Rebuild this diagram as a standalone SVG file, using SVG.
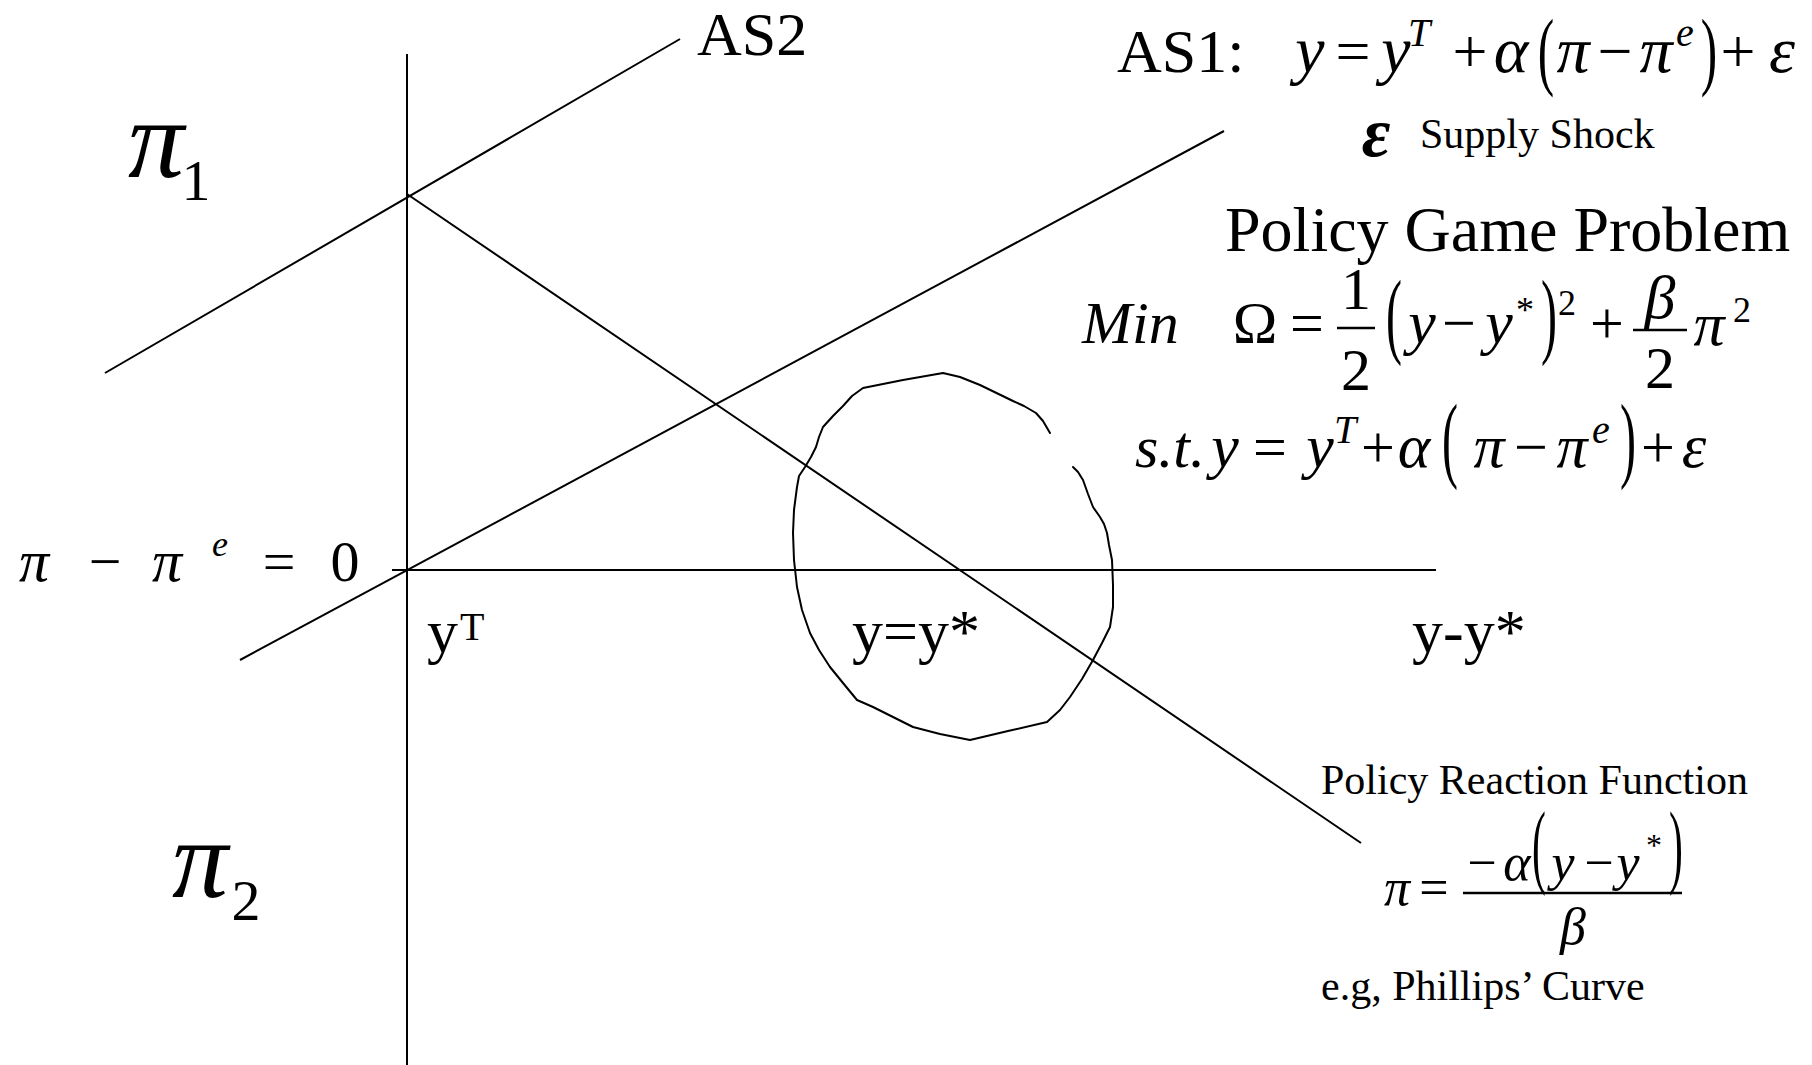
<svg xmlns="http://www.w3.org/2000/svg" width="1812" height="1065" viewBox="0 0 1812 1065">
<style>
text{font-family:"Liberation Serif","Times New Roman",serif;fill:#000}
.m{text-anchor:middle}
.i{font-style:italic}
.l{stroke:#000;stroke-width:2;fill:none}
.bar{stroke:#000;stroke-width:2.5}
.f66{font-size:66px}
.f62{font-size:62px}
.f60{font-size:60px}
.f58{font-size:58px}
.f52{font-size:52px}
.f42{font-size:42px}
.f40{font-size:40px}
.f36{font-size:36px}
.f32{font-size:32px}
</style>
<rect width="1812" height="1065" fill="#fff"/>
<g id="connectors">
<line class="l" x1="407" y1="54" x2="407" y2="1065"/>
<line class="l" x1="392" y1="570" x2="1436" y2="570"/>
<line id="as1-line" class="l" x1="240" y1="660" x2="1224" y2="131"/>
<line id="as2-line" class="l" x1="105" y1="373" x2="680" y2="39"/>
<line id="reaction-line" class="l" x1="407" y1="194" x2="1361" y2="843"/>
<path id="loss-curve" class="l" stroke-linejoin="round" stroke-linecap="round" d="M1050,433 L1043,421 1036,413 1024,406 1013,401 980,385 960,377 943,373 903,380 863,388 852,396 843,406 833,416 823,427 819,437 816,447 811,457 805,467 799,476 797,487 794,510 793,533 794,560 797,587 802,610 810,633 819,650 830,667 843,683 857,700 873,707 893,717 913,727 940,734 970,740 1008,731 1047,722 1060,710 1070,697 1082,679 1093,660 1102,643 1110,627 1113,607 1113,585 1112,560 1109,545 1107,533 1104,524 1100,517 1093,507 1088,494 1083,480 1078,472 1073,467"/>
</g>
<g id="as2-label"><text class="f62" x="697" y="55">AS2</text></g>
<g id="as1-label">
<text class="f62" x="1117" y="72">AS1:</text>
<text class="f66 i m" x="1310" y="72">y</text>
<text class="f62 m" x="1353" y="72">=</text>
<text class="f66 i m" x="1396" y="72">y</text>
<text class="f40 i m" x="1419" y="46">T</text>
<text class="f62 m" x="1470" y="72">+</text>
<text class="f66 i m" x="1511" y="72">α</text>
<text class="f58 m" transform="translate(1546,79) scale(0.85,1.5)">(</text>
<text class="f66 i m" x="1573" y="72">π</text>
<text class="f62 m" x="1615" y="72">−</text>
<text class="f66 i m" x="1656" y="72">π</text>
<text class="f40 i m" x="1685" y="46">e</text>
<text class="f58 m" transform="translate(1709,79) scale(0.85,1.5)">)</text>
<text class="f62 m" x="1738" y="72">+</text>
<text class="f66 i m" x="1782" y="72">ε</text>
</g>
<g id="supply-shock">
<text class="i m" style="font-size:70px;font-weight:bold" x="1376" y="156">ε</text>
<text class="f42" x="1420" y="148">Supply Shock</text>
</g>
<g id="policy-game">
<text style="font-size:64px" x="1225" y="251">Policy Game Problem</text>
<text class="f60 i" x="1082" y="343">Min</text>
<text class="f60 m" x="1255" y="343">Ω</text>
<text class="f60 m" x="1307" y="343">=</text>
<line class="bar" x1="1337" y1="328" x2="1375" y2="328"/>
<text class="f60 m" x="1356" y="309">1</text>
<text class="f60 m" x="1356" y="390">2</text>
<text class="f60 m" transform="translate(1394,346) scale(0.8,1.6)">(</text>
<text class="f62 i m" x="1422" y="343">y</text>
<text class="f60 m" x="1459" y="343">−</text>
<text class="f62 i m" x="1499" y="343">y</text>
<text class="f36 m" x="1525" y="322">*</text>
<text class="f60 m" transform="translate(1549,346) scale(0.8,1.6)">)</text>
<text class="f36 m" x="1567" y="315">2</text>
<text class="f60 m" x="1607" y="343">+</text>
<line class="bar" x1="1633" y1="330" x2="1687" y2="330"/>
<text class="f62 i m" x="1660" y="318">β</text>
<text class="f60 m" x="1660" y="388">2</text>
<text class="f62 i m" x="1709" y="345">π</text>
<text class="f36 m" x="1742" y="322">2</text>
</g>
<g id="constraint">
<text class="f60 i" x="1135" y="467">s.t.</text>
<text class="f62 i m" x="1225" y="467">y</text>
<text class="f60 m" x="1270" y="467">=</text>
<text class="f62 i m" x="1320" y="467">y</text>
<text class="f40 i m" x="1345" y="443">T</text>
<text class="f60 m" x="1378" y="467">+</text>
<text class="f62 i m" x="1414" y="467">α</text>
<text class="f60 m" transform="translate(1450,470) scale(0.8,1.6)">(</text>
<text class="f62 i m" x="1489" y="467">π</text>
<text class="f60 m" x="1531" y="467">−</text>
<text class="f62 i m" x="1572" y="467">π</text>
<text class="f40 i m" x="1601" y="443">e</text>
<text class="f60 m" transform="translate(1628,470) scale(0.8,1.6)">)</text>
<text class="f60 m" x="1658" y="467">+</text>
<text class="f62 i m" x="1694" y="467">ε</text>
</g>
<g id="zero-label">
<text class="i m" style="font-size:60px" x="34" y="581">π</text>
<text class="f58 m" x="105" y="581">−</text>
<text class="i m" style="font-size:60px" x="167" y="581">π</text>
<text class="f36 i m" x="220" y="556">e</text>
<text class="f58 m" x="279" y="581">=</text>
<text class="f58 m" x="345" y="581">0</text>
</g>
<g id="pi1-label">
<text class="i m" style="font-size:112px" x="156" y="177">π</text>
<text class="f58 m" x="196" y="200">1</text>
</g>
<g id="pi2-label">
<text class="i m" style="font-size:112px" x="200" y="897">π</text>
<text class="f58 m" x="246" y="920">2</text>
</g>
<g id="yT-label">
<text class="f62" x="427" y="652">y</text>
<text class="f40" x="460" y="640">T</text>
</g>
<g id="ystar-label"><text class="f62" x="852" y="652">y=y*</text></g>
<g id="ydiff-label"><text class="f62" x="1412" y="652">y-y*</text></g>
<g id="reaction-label">
<text class="f42" x="1321" y="794">Policy Reaction Function</text>
<text class="f52 i m" x="1397" y="905">π</text>
<text class="f52 m" x="1434" y="905">=</text>
<line class="bar" x1="1463" y1="893" x2="1682" y2="893"/>
<text class="f52 m" x="1482" y="880">−</text>
<text class="f52 i m" x="1517" y="880">α</text>
<text class="f52 m" transform="translate(1539,876) scale(0.8,1.8)">(</text>
<text class="f52 i m" x="1563" y="880">y</text>
<text class="f52 m" x="1599" y="880">−</text>
<text class="f52 i m" x="1628" y="880">y</text>
<text class="f32 m" x="1654" y="856">*</text>
<text class="f52 m" transform="translate(1676,876) scale(0.8,1.8)">)</text>
<text class="f52 i m" x="1573" y="944">β</text>
</g>
<g id="phillips-label"><text class="f42" x="1321" y="1000">e.g, Phillips’ Curve</text></g>
</svg>
